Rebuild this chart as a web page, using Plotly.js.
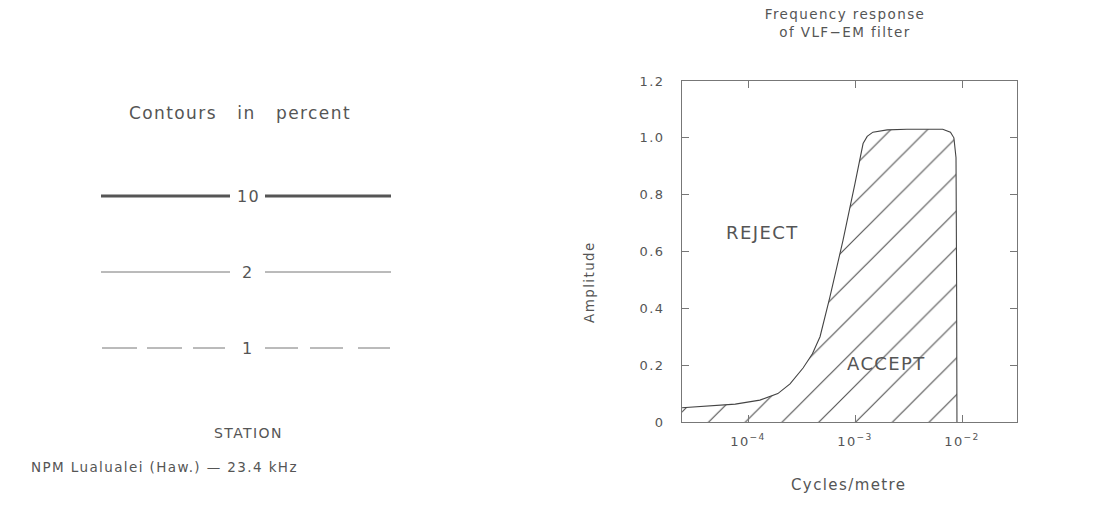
<!DOCTYPE html>
<html><head><meta charset="utf-8">
<script src="https://cdn.plot.ly/plotly-3.0.1.min.js"></script>
<style>
body{margin:0;background:#fff}
svg text{letter-spacing:1.4px}
</style>
</head><body>
<div id="chart" style="width:1109px;height:514px"></div>
<script>
// Frequency response of VLF-EM filter
const cyclesPerMetre = [2.42e-5, 5.0e-5, 7.6e-5, 1.29e-4, 1.9e-4, 2.47e-4, 3.27e-4, 4.0e-4, 4.71e-4, 5.83e-4, 7.73e-4, 1.0e-3, 1.19e-3, 1.3e-3, 1.47e-3, 2.0e-3, 3.06e-3, 6.6e-3, 7.8e-3, 8.4e-3, 8.79e-3, 8.9e-3, 8.97e-3];
const amplitude      = [0.05, 0.057, 0.063, 0.077, 0.10, 0.134, 0.19, 0.24, 0.30, 0.44, 0.64, 0.84, 0.98, 1.005, 1.02, 1.028, 1.03, 1.03, 1.02, 1.0, 0.93, 0.5, 0.0];

const yTickVals = [0, 0.2, 0.4, 0.6, 0.8, 1.0, 1.2];
const yTickText = ['0', '0.2', '0.4', '0.6', '0.8', '1.0', '1.2'];
const xTickVals = [1e-4, 1e-3, 1e-2];
const xTickText = ['10<sup>−4</sup>', '10<sup>−3</sup>', '10<sup>−2</sup>'];

const contourLabels = ['10', '2', '1'];
const stationName = 'NPM Lualualei (Haw.) — 23.4 kHz';

const W = 1109, H = 514;
const px = x => x / W;
const py = y => 1 - y / H;
const ink = '#555';
const fam = 'DejaVu Sans, sans-serif';
const f = s => ({family: fam, size: s, color: ink});

const trace = {
  x: cyclesPerMetre, y: amplitude, type: 'scatter', mode: 'lines',
  line: {color: '#444', width: 1.1},
  fill: 'tozeroy', fillcolor: 'rgba(255,255,255,0)',
  fillpattern: {shape: '/', size: 26, solidity: 0.045, fgcolor: '#555', bgcolor: 'rgba(255,255,255,0)'},
  hoverinfo: 'skip'
};

// left-side contour legend lines
const rowsY = [196, 272, 348];
const shapes = [];
function seg(x0, x1, y, w, col) {
  shapes.push({type: 'line', xref: 'paper', yref: 'paper', x0: px(x0), x1: px(x1), y0: py(y), y1: py(y),
    line: {color: col, width: w}});
}
seg(101, 230, rowsY[0], 3, '#555'); seg(265, 391, rowsY[0], 3, '#555');
seg(101, 230, rowsY[1], 1, '#777'); seg(265, 391, rowsY[1], 1, '#777');
[[102, 137], [147, 182], [193, 225], [265, 298], [310, 343], [358, 390]].forEach(d => seg(d[0], d[1], rowsY[2], 1, '#777'));

const annotations = [
  {text: 'Contours   in   percent', x: px(240), y: py(113), font: f(17)},
  {text: contourLabels[0], x: px(248), y: py(196), font: f(16)},
  {text: contourLabels[1], x: px(248), y: py(272), font: f(16)},
  {text: contourLabels[2], x: px(248), y: py(348), font: f(16)},
  {text: 'STATION', x: px(248), y: py(433), font: f(14)},
  {text: stationName, x: px(164), y: py(467), font: f(13.5)},
  {text: 'REJECT', x: px(762), y: py(233), font: f(18)},
  {text: 'ACCEPT', x: px(886), y: py(363), font: f(18)},
  {text: 'Amplitude', x: px(589), y: py(282), font: f(13.5), textangle: -90},
  {text: 'Cycles/metre', x: px(848), y: py(485), font: f(15)},
].map(a => Object.assign({xref: 'paper', yref: 'paper', showarrow: false, xanchor: 'center', yanchor: 'middle'}, a));

const layout = {
  width: W, height: H,
  margin: {l: 0, r: 0, t: 0, b: 0},
  paper_bgcolor: '#fff', plot_bgcolor: '#fff',
  showlegend: false,
  font: f(14),
  title: {text: 'Frequency response<br>of VLF−EM filter', x: px(845), xanchor: 'center', xref: 'paper',
          y: py(19), yref: 'container', yanchor: 'top', font: f(13.5)},
  xaxis: {
    type: 'log', domain: [px(682), px(1017)], range: [-4.617, -1.486],
    showline: true, linecolor: '#777', linewidth: 1, mirror: 'ticks',
    ticks: 'inside', ticklen: 7, tickcolor: '#777',
    tickvals: xTickVals, ticktext: xTickText, showgrid: false, zeroline: false,
    tickfont: f(13), ticklabelstandoff: 7,
    automargin: false
  },
  yaxis: {
    domain: [py(422), py(81)], range: [0, 1.2],
    showline: true, linecolor: '#777', linewidth: 1, mirror: 'ticks',
    ticks: 'inside', ticklen: 7, tickcolor: '#777',
    tickvals: yTickVals, ticktext: yTickText, showgrid: false, zeroline: false,
    tickfont: f(13), ticklabelstandoff: 14,
    automargin: false
  },
  shapes: shapes,
  annotations: annotations
};

Plotly.newPlot('chart', [trace], layout, {displayModeBar: false, staticPlot: true});
</script>
</body></html>
